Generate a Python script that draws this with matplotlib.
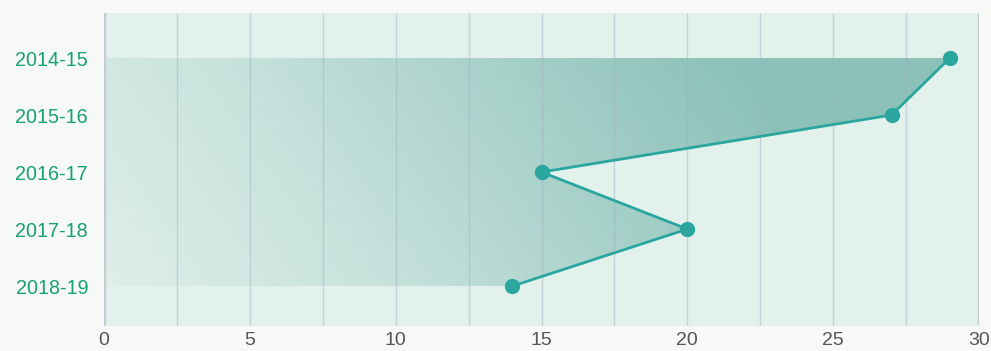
import numpy as np
import matplotlib
matplotlib.use("Agg")
import matplotlib.pyplot as plt
from matplotlib.patches import Polygon
from matplotlib.colors import LinearSegmentedColormap

plt.rcParams["font.family"] = ["Liberation Sans", "DejaVu Sans"]

# chart data
years = ["2014-15", "2015-16", "2016-17", "2017-18", "2018-19"]
values = [29, 27, 15, 20, 14]
x_ticks = [0, 5, 10, 15, 20, 25, 30]

line_color = "#2aa69f"
pos = np.arange(len(years))

fig = plt.figure(figsize=(9.91, 3.51), dpi=100)
fig.patch.set_facecolor("#f6f9f5")
ax = fig.add_axes([104 / 991, 1 - 326 / 351, (979 - 104) / 991, (326 - 13) / 351])
ax.set_facecolor("#e3f1ed")

ax.set_xlim(0, 30)
ax.set_ylim(4.70, -0.79)

# vertical grid every 2.5
for gx in np.arange(2.5, 30, 2.5):
    ax.axvline(gx, color="#9fb2c0", lw=1, alpha=0.45, zorder=3)
ax.axvline(0, color="#c4ccd6", lw=2.5, zorder=4)
ax.axvline(30, color="#c4ccd6", lw=2.5, zorder=4)

# gradient area between 0 and the line
verts = [(0, pos[0])] + list(zip(values, pos)) + [(0, pos[-1])]
poly = Polygon(verts, closed=True, facecolor="none", edgecolor="none")
ax.add_patch(poly)
xx, yy = np.meshgrid(np.linspace(0, 30, 300), np.linspace(0, 1, 100))
grad = np.clip(0.85 * xx / 23 + 0.2 * (1 - yy), 0, 1)
cmap = LinearSegmentedColormap.from_list("g", ["#deeee9", "#c9e3dd", "#a9d2ca", "#8cc1b9"])
im = ax.imshow(grad, extent=[0, 30, pos[-1], pos[0]], cmap=cmap, aspect="auto",
               origin="upper", zorder=2)
im.set_clip_path(poly)

ax.plot(values, pos, color=line_color, lw=2, marker="o", markersize=10, zorder=5,
        clip_on=False)

ax.set_yticks(pos)
ax.set_yticklabels(years, color="#16a272", fontsize=14.2)
ax.set_xticks(x_ticks)
ax.set_xticklabels([str(t) for t in x_ticks], color="#555555", fontsize=14)
ax.tick_params(axis="both", length=0)
ax.tick_params(axis="y", pad=11.5)
ax.tick_params(axis="x", pad=4)
for s in ax.spines.values():
    s.set_visible(False)

fig.savefig("out.png", dpi=100, facecolor=fig.get_facecolor())
